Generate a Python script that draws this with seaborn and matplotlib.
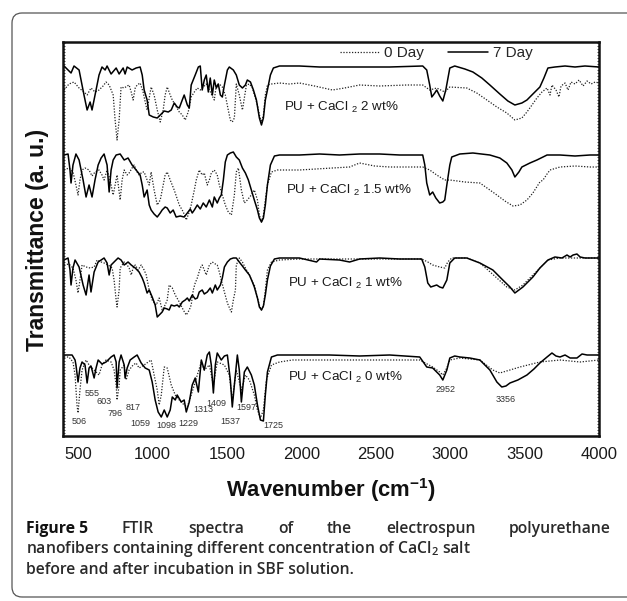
import matplotlib
matplotlib.use("Agg")
import matplotlib.pyplot as plt
import seaborn as sns
from matplotlib.patches import FancyBboxPatch
from matplotlib.transforms import IdentityTransform
from matplotlib.ticker import MultipleLocator, NullLocator

sns.set_style("white")
plt.rcParams['font.family'] = ['Liberation Sans', 'DejaVu Sans']
plt.rcParams['mathtext.fontset'] = 'custom'
plt.rcParams['mathtext.default'] = 'regular'

# ---- spectra (wavenumber cm-1, transmittance a.u. with offsets) ----
# PU + CaCl2 2 wt%
wn_2_7d = [407, 454, 474, 508, 541, 562, 582, 595, 622, 642, 662, 683, 696, 723, 757, 777, 804, 817, 831, 864,
           891, 918, 932, 945, 965, 979, 1006, 1033, 1060, 1080, 1107, 1127, 1147, 1167, 1181, 1201, 1214, 1235,
           1248, 1261, 1288, 1309, 1322, 1335, 1349, 1362, 1376, 1389, 1403, 1416, 1430, 1443, 1457, 1470, 1484,
           1504, 1517, 1544, 1564, 1584, 1605, 1625, 1638, 1659, 1679, 1699, 1719, 1733, 1746, 1759, 1773, 1793,
           1813, 1854, 1988, 2123, 2257, 2392, 2594, 2816, 2843, 2863, 2877, 2897, 2910, 2930, 2951, 2971, 2998,
           3031, 3099, 3153, 3213, 3267, 3334, 3388, 3435, 3482, 3516, 3556, 3603, 3630, 3657, 3704, 3772, 3839,
           3906, 4000]
t_2_7d = [370, 363, 370, 366, 341, 326, 334, 326, 346, 361, 369, 366, 370, 362, 368, 362, 368, 362, 369, 366,
          368, 369, 361, 346, 336, 321, 319, 318, 322, 325, 324, 326, 333, 329, 328, 336, 341, 331,
          328, 351, 361, 369, 370, 346, 356, 361, 344, 358, 341, 356, 348, 352, 341, 339, 351,
          366, 369, 366, 361, 351, 348, 351, 356, 354, 346, 336, 318, 311, 318, 336, 346, 361,
          368, 370, 370, 369, 369, 369, 369, 370, 366, 351, 339, 343, 346, 340, 335, 346, 368,
          370, 367, 364, 358, 351, 342, 335, 331, 333, 336, 342, 349, 358, 368, 369, 370, 369,
          370, 369]
wn_2_0d = [407, 440, 474, 508, 541, 562, 588, 615, 642, 669, 689, 710, 737, 750, 763, 777, 790, 811, 831, 844,
           858, 871, 885, 898, 918, 938, 952, 965, 979, 992, 1012, 1033, 1053, 1073, 1086, 1100, 1120, 1134,
           1154, 1181, 1201, 1221, 1241, 1261, 1282, 1302, 1322, 1342, 1362, 1383, 1403, 1416, 1430, 1450,
           1470, 1490, 1510, 1524, 1537, 1551, 1564, 1584, 1605, 1618, 1632, 1652, 1672, 1692, 1706, 1719,
           1733, 1746, 1759, 1773, 1800, 1854, 1921, 1988, 2089, 2210, 2291, 2392, 2527, 2708, 2816, 2863,
           2910, 2964, 2998, 3112, 3179, 3247, 3314, 3381, 3435, 3482, 3516, 3550, 3583, 3617, 3651, 3671,
           3684, 3711, 3731, 3745, 3772, 3792, 3812, 3839, 3866, 3893, 3920, 3947, 3974, 4000]
t_2_0d = [346, 352, 354, 348, 344, 341, 348, 344, 346, 350, 354, 351, 341, 316, 296, 316, 349, 348, 350, 351,
          344, 336, 348, 351, 353, 344, 334, 326, 338, 349, 341, 326, 314, 326, 341, 349, 341, 336,
          331, 324, 321, 316, 324, 339, 344, 348, 346, 349, 352, 346, 340, 336, 351, 352,
          349, 341, 326, 316, 314, 318, 352, 341, 326, 338, 351, 352, 348, 338, 331, 321,
          314, 321, 341, 351, 352, 353, 352, 353, 350, 346, 348, 351, 350, 351, 351, 346,
          348, 344, 349, 348, 343, 336, 329, 323, 316, 318, 324, 331, 338, 344, 348, 341,
          351, 346, 339, 350, 353, 346, 354, 352, 356, 350, 355, 352, 354, 353]

# PU + CaCl2 1.5 wt%
wn_15_7d = [407, 434, 447, 454, 467, 487, 508, 535, 555, 575, 595, 615, 636, 656, 676, 696, 710, 723, 737, 757,
            784, 811, 837, 864, 891, 918, 932, 945, 965, 979, 992, 1012, 1033, 1053, 1066, 1086, 1100, 1120,
            1140, 1160, 1187, 1214, 1235, 1255, 1268, 1282, 1302, 1322, 1342, 1362, 1383, 1403, 1416, 1436,
            1450, 1463, 1477, 1490, 1504, 1524, 1544, 1564, 1584, 1605, 1625, 1645, 1665, 1685, 1706, 1719,
            1733, 1746, 1759, 1773, 1793, 1820, 1854, 1988, 2123, 2257, 2392, 2527, 2661, 2816, 2830, 2843,
            2863, 2883, 2904, 2930, 2951, 2964, 2978, 2998, 3011, 3065, 3153, 3267, 3334, 3381, 3415, 3435,
            3462, 3482, 3536, 3583, 3624, 3651, 3738, 3839, 3940, 4000]
t_15_7d = [281, 282, 266, 253, 271, 282, 276, 256, 239, 251, 239, 256, 271, 278, 282, 271, 244, 266, 276, 281,
           282, 276, 278, 271, 266, 261, 251, 239, 246, 231, 226, 222, 219, 223, 226, 229, 228, 223,
           226, 219, 220, 219, 223, 227, 223, 226, 231, 227, 233, 229, 236, 229, 239, 233,
           238, 241, 256, 274, 281, 283, 284, 279, 276, 268, 263, 256, 246, 236, 226, 218,
           214, 218, 231, 251, 271, 280, 281, 281, 282, 281, 282, 282, 281, 281, 271, 253,
           241, 244, 238, 233, 234, 236, 251, 271, 279, 282, 283, 281, 278, 273, 266, 259,
           264, 269, 273, 276, 279, 281, 281, 280, 281, 281]
wn_15_0d = [407, 440, 467, 487, 501, 514, 528, 548, 575, 595, 615, 642, 662, 676, 696, 716, 737, 750, 763, 784,
            797, 811, 831, 844, 864, 878, 898, 911, 932, 945, 965, 979, 992, 1012, 1033, 1053, 1073, 1086,
            1100, 1120, 1147, 1181, 1208, 1228, 1248, 1261, 1282, 1295, 1315, 1335, 1349, 1369, 1383, 1396,
            1416, 1436, 1450, 1470, 1490, 1510, 1531, 1551, 1564, 1578, 1598, 1618, 1638, 1665, 1685, 1706,
            1719, 1733, 1746, 1759, 1773, 1800, 1840, 1988, 2210, 2325, 2392, 2493, 2594, 2816, 2863, 2910,
            2964, 2998, 3099, 3200, 3267, 3314, 3368, 3422, 3469, 3516, 3556, 3603, 3624, 3651, 3671, 3738,
            3839, 3940, 4000]
t_15_0d = [266, 268, 264, 251, 241, 256, 266, 268, 266, 260, 264, 266, 261, 256, 266, 256, 241, 251, 261, 236,
           256, 266, 261, 263, 268, 271, 264, 261, 264, 264, 256, 251, 264, 246, 231, 236, 251, 261,
           264, 256, 246, 231, 224, 216, 224, 231, 246, 256, 266, 261, 263, 251, 256, 263,
           266, 261, 251, 241, 231, 224, 221, 241, 264, 268, 246, 233, 236, 241, 246, 236,
           221, 214, 221, 236, 251, 264, 266, 266, 268, 269, 273, 270, 269, 269, 266, 261,
           256, 256, 254, 253, 246, 241, 235, 230, 231, 236, 243, 254, 256, 262, 266, 269,
           270, 269, 269]

# PU + CaCl2 1 wt%
wn_1_7d = [407, 434, 447, 454, 467, 481, 508, 535, 555, 575, 588, 609, 636, 656, 676, 696, 710, 723, 743, 770,
           790, 811, 837, 858, 885, 911, 932, 945, 965, 979, 999, 1019, 1033, 1053, 1066, 1080, 1100, 1113,
           1127, 1147, 1167, 1181, 1201, 1221, 1235, 1248, 1268, 1288, 1302, 1315, 1335, 1349, 1369, 1389,
           1403, 1423, 1436, 1457, 1470, 1484, 1504, 1524, 1544, 1564, 1584, 1605, 1625, 1652, 1672, 1685,
           1706, 1719, 1733, 1746, 1759, 1773, 1793, 1820, 1854, 1988, 2103, 2123, 2257, 2325, 2392, 2527,
           2661, 2809, 2830, 2850, 2870, 2890, 2910, 2930, 2951, 2978, 2998, 3031, 3112, 3200, 3287, 3354,
           3402, 3435, 3462, 3489, 3556, 3603, 3657, 3704, 3751, 3785, 3806, 3826, 3852, 3873, 3906, 4000]
t_1_7d = [176, 178, 166, 151, 168, 176, 169, 151, 141, 161, 144, 164, 174, 176, 178, 173, 161, 171, 174, 178,
          176, 171, 174, 171, 168, 164, 158, 153, 143, 146, 139, 131, 119, 122, 124, 128, 127, 126,
          131, 130, 131, 129, 134, 136, 138, 135, 141, 137, 138, 144, 146, 142, 144, 148,
          143, 151, 146, 151, 158, 169, 174, 177, 178, 178, 174, 170, 166, 161, 154, 149,
          138, 129, 126, 130, 141, 156, 170, 177, 178, 178, 174, 177, 176, 174, 177, 178,
          177, 177, 169, 153, 149, 150, 151, 149, 148, 156, 173, 178, 178, 173, 166, 156,
          149, 143, 146, 149, 159, 168, 176, 179, 178, 181, 179, 181, 182, 179, 178, 178]
wn_1_0d = [407, 440, 467, 487, 501, 514, 528, 555, 582, 609, 629, 656, 676, 703, 730, 743, 757, 763, 777, 784,
           811, 831, 844, 858, 871, 885, 905, 925, 945, 959, 979, 999, 1026, 1046, 1066, 1086, 1100, 1113,
           1134, 1154, 1181, 1208, 1228, 1248, 1261, 1275, 1288, 1302, 1322, 1335, 1349, 1362, 1383, 1403,
           1423, 1436, 1450, 1463, 1484, 1504, 1524, 1531, 1544, 1558, 1564, 1584, 1605, 1625, 1652, 1672,
           1685, 1706, 1719, 1733, 1746, 1759, 1773, 1800, 1854, 1988, 2257, 2527, 2809, 2850, 2883, 2930,
           2964, 2984, 3011, 3112, 3200, 3254, 3314, 3381, 3435, 3489, 3556, 3603, 3657, 3738, 4000]
t_1_0d = [171, 172, 168, 156, 143, 156, 171, 169, 168, 169, 176, 174, 173, 171, 168, 156, 136, 129, 146, 168,
          174, 171, 168, 161, 168, 171, 166, 171, 166, 161, 146, 136, 131, 138, 126, 131, 136, 151,
          148, 141, 134, 126, 121, 126, 131, 146, 153, 158, 168, 171, 166, 161, 171, 174,
          172, 171, 164, 156, 144, 133, 126, 124, 136, 146, 171, 178, 174, 168, 161, 154,
          151, 138, 131, 126, 130, 146, 166, 174, 176, 177, 177, 177, 177, 174, 171, 169,
          168, 174, 178, 178, 173, 166, 158, 149, 146, 151, 161, 168, 176, 178, 178]

# PU + CaCl2 0 wt%
wn_0_7d = [407, 461, 481, 487, 501, 514, 528, 548, 562, 575, 588, 609, 622, 636, 662, 689, 723, 743, 757, 763,
           777, 790, 811, 817, 831, 851, 878, 898, 925, 952, 979, 999, 1019, 1039, 1060, 1080, 1100, 1120,
           1134, 1154, 1167, 1194, 1214, 1228, 1248, 1268, 1288, 1309, 1329, 1349, 1369, 1383, 1396, 1410,
           1423, 1436, 1463, 1484, 1504, 1524, 1537, 1551, 1571, 1584, 1598, 1618, 1638, 1665, 1685, 1706,
           1726, 1746, 1759, 1773, 1800, 1840, 1941, 2190, 2392, 2594, 2796, 2843, 2883, 2930, 2951, 2978,
           2998, 3031, 3065, 3132, 3200, 3267, 3314, 3347, 3375, 3402, 3455, 3516, 3563, 3603, 3651, 3684,
           3711, 3738, 3772, 3806, 3852, 3886, 3920, 4000]
t_0_7d = [81, 81, 76, 71, 54, 68, 74, 71, 53, 68, 70, 58, 68, 76, 72, 74, 79, 81, 74, 48,
          74, 81, 71, 58, 68, 76, 79, 81, 73, 68, 66, 54, 36, 24, 19, 26, 19, 26,
          39, 36, 41, 34, 36, 24, 34, 51, 58, 44, 76, 66, 81, 84, 71, 43,
          71, 83, 76, 80, 81, 56, 29, 51, 81, 66, 34, 64, 69, 61, 51, 31,
          16, 15, 41, 64, 79, 81, 81, 81, 80, 81, 79, 69, 68, 61, 56, 66,
          78, 80, 79, 78, 76, 66, 54, 49, 50, 53, 56, 61, 67, 73, 79, 83,
          80, 79, 81, 78, 78, 82, 81, 81]
wn_0_0d = [407, 440, 467, 481, 494, 501, 514, 528, 555, 575, 609, 642, 662, 689, 723, 743, 757, 763, 777, 784,
           811, 824, 844, 871, 891, 911, 945, 972, 992, 1012, 1033, 1046, 1060, 1080, 1100, 1127, 1154, 1181,
           1214, 1235, 1261, 1282, 1302, 1329, 1349, 1383, 1410, 1436, 1484, 1517, 1537, 1564, 1598, 1625,
           1652, 1685, 1706, 1726, 1746, 1766, 1800, 1854, 1941, 2661, 2796, 2883, 2930, 2951, 2978, 2998,
           3065, 3200, 3287, 3334, 3402, 3469, 3603, 3738, 3873, 4000]
t_0_0d = [79, 79, 74, 61, 31, 23, 46, 66, 76, 71, 66, 61, 71, 76, 74, 66, 51, 36, 51, 66,
          71, 56, 66, 71, 73, 68, 71, 74, 76, 61, 46, 31, 41, 69, 68, 51, 41, 36,
          31, 29, 41, 51, 61, 74, 66, 71, 51, 74, 71, 61, 36, 66, 46, 61,
          56, 41, 26, 18, 26, 56, 71, 74, 76, 76, 76, 69, 64, 61, 68, 76,
          78, 76, 66, 63, 66, 69, 74, 76, 74, 76]

spectra = [
    (wn_2_0d, t_2_0d, wn_2_7d, t_2_7d),
    (wn_15_0d, t_15_0d, wn_15_7d, t_15_7d),
    (wn_1_0d, t_1_0d, wn_1_7d, t_1_7d),
    (wn_0_0d, t_0_0d, wn_0_7d, t_0_7d),
]
sample_labels = ['PU + CaCl $_2$ 2 wt%', 'PU + CaCl $_2$ 1.5 wt%',
                 'PU + CaCl $_2$ 1 wt%', 'PU + CaCl $_2$ 0 wt%']
sample_label_pos = [(1887, 329), (1901, 246), (1908, 153), (1908, 59)]

# peak assignments on the 0 wt% spectrum
peak_labels = ['506', '555', '603', '796', '817', '1059', '1098', '1229', '1313', '1409',
               '1537', '1597', '1725', '2952', '3356']
peak_label_pos = [(508, 14), (599, 43), (676, 35), (750, 22), (871, 29), (918, 12), (1097, 10),
                  (1241, 12), (1342, 26), (1430, 33), (1524, 15), (1632, 28), (1813, 11),
                  (2971, 47), (3375, 37)]

W, H = 627, 601
fig = plt.figure(figsize=(W / 100, H / 100), dpi=100)
fig.patch.set_facecolor('white')
ax = fig.add_axes([63 / W, 1 - 436 / H, 536 / W, 394 / H])

dotted = (0, (1.0, 1.3))
for i, (wn0, t0, wn7, t7) in enumerate(spectra):
    kw0 = {'label': '0 Day'} if i == 0 else {}
    kw7 = {'label': '7 Day'} if i == 0 else {}
    sns.lineplot(x=wn0, y=t0, ax=ax, color='#222222', lw=0.9, linestyle=dotted,
                 estimator=None, errorbar=None, sort=False, legend=False, **kw0)
    sns.lineplot(x=wn7, y=t7, ax=ax, color='black', lw=1.1,
                 estimator=None, errorbar=None, sort=False, legend=False, **kw7)

for s, (x, y) in zip(sample_labels, sample_label_pos):
    ax.text(x, y, s, fontsize=9.6, ha='left', va='center', color='#1a1a1a')

for s, (x, y) in zip(peak_labels, peak_label_pos):
    ax.text(x, y, s, fontsize=6.5, ha='center', va='center', color='#333333')

ax.set_xlim(400, 4000)
ax.set_ylim(0, 394)
ax.xaxis.set_major_locator(MultipleLocator(500))
ax.xaxis.set_minor_locator(MultipleLocator(250))
ax.yaxis.set_major_locator(NullLocator())
ax.yaxis.set_minor_locator(MultipleLocator(3))
ax.tick_params(axis='x', which='major', direction='in', length=5.5, width=1.3,
               labelsize=12, pad=8, colors='#1a1a1a', top=False)
ax.tick_params(axis='x', which='minor', direction='in', length=3, width=1.1, top=False)
ax.tick_params(axis='y', which='minor', direction='in', length=1.5, width=0.6,
               left=True, right=True, labelleft=False)
ax.set_xlabel('')
ax.set_ylabel('')
for sp in ax.spines.values():
    sp.set_linewidth(1.8)
    sp.set_color('#111111')

handles, labels = ax.get_legend_handles_labels()
ax.legend(handles, labels, loc='center', bbox_to_anchor=(0.696, 0.972), ncol=2,
          frameon=False, fontsize=11, handlelength=2.6, handletextpad=0.3,
          columnspacing=1.6, borderpad=0.1)

fig.text(331 / W, 1 - 490 / H, 'Wavenumber (cm$^{-1}$)', ha='center', va='center',
         fontsize=15.8, fontweight='bold', color='#111111')
fig.text(38 / W, 1 - 240 / H, 'Transmittance (a. u.)', ha='center', va='center',
         rotation=90, fontsize=16.5, fontweight='bold', color='#111111')

# rounded frame round the figure panel
frame = FancyBboxPatch((12, 4), 650, 584, boxstyle='round,pad=0,rounding_size=10',
                       transform=IdentityTransform(), fill=False, ec='#555555', lw=0.9)
fig.add_artist(frame)

# caption, first line justified
cap_font = ['Open Sans', 'DejaVu Sans']
cap_size = 11.3
renderer = fig.canvas.get_renderer()
words = [('Figure 5', 'bold', '#111111'), ('FTIR', 'semibold', '#2a2a2a'),
         ('spectra', 'semibold', '#2a2a2a'), ('of', 'semibold', '#2a2a2a'),
         ('the', 'semibold', '#2a2a2a'), ('electrospun', 'semibold', '#2a2a2a'),
         ('polyurethane', 'semibold', '#2a2a2a')]
objs = []
for w, wt, c in words:
    t = fig.text(0, 1 - 529 / H, w, ha='left', va='center', fontsize=cap_size,
                 fontweight=wt, family=cap_font, color=c)
    objs.append(t)
widths = [t.get_window_extent(renderer).width for t in objs]
x0, x1 = 26, 611
gap = (x1 - x0 - sum(widths)) / (len(objs) - 1)
x = x0
for t, w in zip(objs, widths):
    t.set_x(x / W)
    x += w + gap

fig.text(x0 / W, 1 - 549 / H, 'nanofibers containing different concentration of CaCl$_2$ salt',
         ha='left', va='center', fontsize=cap_size, fontweight='semibold', family=cap_font,
         color='#2a2a2a')
fig.text(x0 / W, 1 - 570 / H, 'before and after incubation in SBF solution.',
         ha='left', va='center', fontsize=cap_size, fontweight='semibold', family=cap_font,
         color='#2a2a2a')

fig.savefig('out.png', dpi=100, facecolor='white')
